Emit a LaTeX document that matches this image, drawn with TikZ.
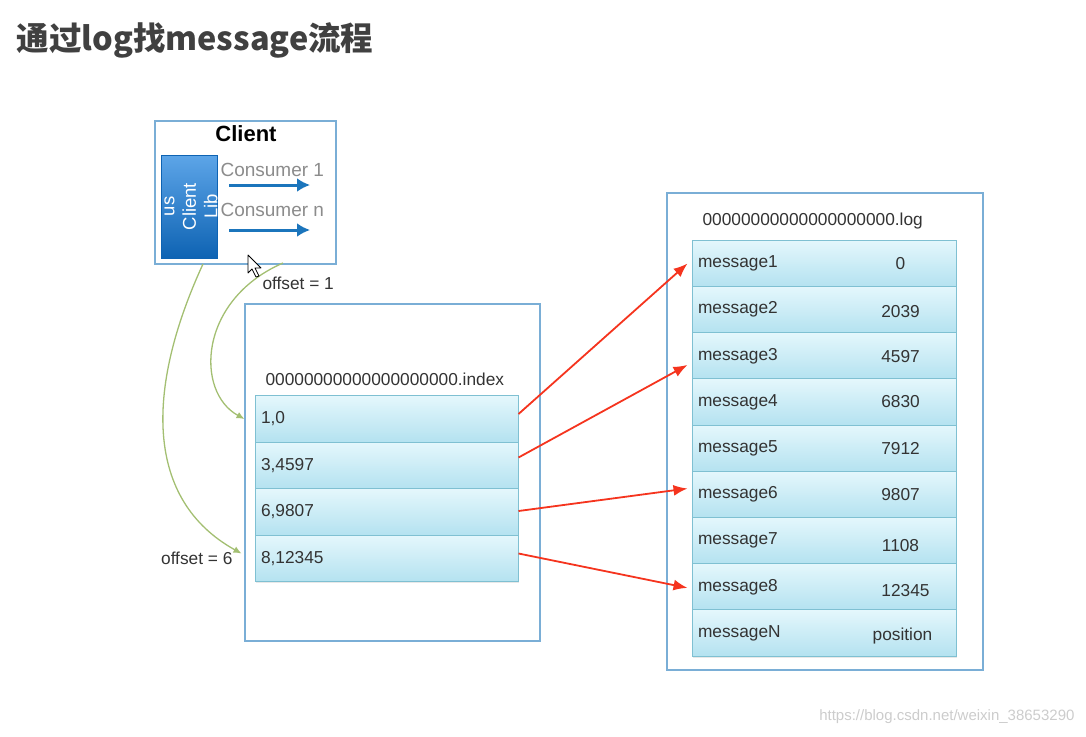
\documentclass[tikz,border=0pt]{standalone}
\usepackage{fontspec}
\setmainfont{Liberation Sans}
\newfontfamily\cjk{Noto Sans CJK SC}
\usetikzlibrary{arrows.meta, positioning, shadows}
\definecolor{boxline}{HTML}{7AAED6}
\definecolor{rowline}{HTML}{7FC0D2}
\definecolor{rowtop}{HTML}{E4F7FC}
\definecolor{rowbot}{HTML}{B4E2F0}
\definecolor{libtop}{HTML}{5DA5E8}
\definecolor{libbot}{HTML}{0E63B3}
\definecolor{consblue}{HTML}{1B75BC}
\definecolor{seekgreen}{HTML}{A3BF72}
\definecolor{ptrred}{HTML}{F5341E}
\definecolor{txtgray}{HTML}{333333}
\tikzstyle{every node}=[font=\fontsize{17.3}{20}\selectfont, text=txtgray]
\tikzstyle{frame}=[draw=boxline, line width=1.4pt, fill=white, rectangle, inner sep=0pt]
\tikzstyle{row}=[draw=rowline, line width=1pt, top color=rowtop, bottom color=rowbot, rectangle,
  inner xsep=6pt, inner ysep=0pt, align=left, minimum height=46.3pt,
  drop shadow={opacity=0.18, shadow xshift=0.8pt, shadow yshift=-1.6pt}]
\tikzstyle{ptr}=[-{Latex[length=14pt,width=11pt]}, ptrred, line width=1.8pt]
\tikzstyle{seek}=[-{Latex[length=8pt,width=7pt]}, seekgreen, line width=1.3pt]
\tikzstyle{cons}=[-{Latex[length=13pt,width=14pt]}, consblue, line width=3pt]
\newcommand{\fsz}[1]{\fontsize{#1}{#1}\selectfont}

\begin{document}
\begin{tikzpicture}[x=1pt, y=-1pt]
    \useasboundingbox (0,0) rectangle (1086,736);
    \node[anchor=west, text=black!75] (title) at (13,40) {\cjk\bfseries\fsz{32.5}通过log找message流程};
    % client
    \node[frame, minimum width=181pt, minimum height=143pt] (client) at (245.5,192.5) {};
    \node[font=\bfseries\fsz{22}, text=black] (cname) at (246,134) {Client};
    \node[rectangle, draw=libbot, top color=libtop, bottom color=libbot, minimum width=56pt,
      minimum height=103pt, inner sep=0pt] (lib) at (189,206.5) {};
    \node[rotate=90, text=white, align=center, font=\fontsize{18.5}{21.5}\selectfont] at ([xshift=2pt]lib.center) {us\\Client\\Lib};
    \node[anchor=west, text=black!45, font=\fsz{19}] (c1) at (217,170) {Consumer 1};
    \node[anchor=west, text=black!45, font=\fsz{19}] (cn) at (217,210) {Consumer n};
    \coordinate (c1a) at (229,185);
    \coordinate (c1b) at (310,185);
    \coordinate (cna) at (229,230);
    \coordinate (cnb) at (310,230);
    \draw[cons] (c1a) -- (c1b);
    \draw[cons] (cna) -- (cnb);
    % index file
    \node[frame, minimum width=295pt, minimum height=337pt] (index) at (392.5,472.5) {};
    \node[anchor=west] (iname) at (262,379) {00000000000000000000.index};
    \node[row, text width=251pt] (i1) at (386.5,419) {1,0};
    \node[row, text width=251pt, below of=i1, node distance=46.5pt] (i2) {3,4597};
    \node[row, text width=251pt, below of=i2, node distance=46.5pt] (i3) {6,9807};
    \node[row, text width=251pt, below of=i3, node distance=46.5pt] (i4) {8,12345};
    % log file
    \node[frame, minimum width=316pt, minimum height=477pt] (log) at (825,431.5) {};
    \node[anchor=west] (lname) at (699,221) {00000000000000000000.log};
    \node[row, text width=252pt] (m1) at (824,263.5) {message1};
    \node[row, text width=252pt, below of=m1, node distance=46.2pt] (m2) {message2};
    \node[row, text width=252pt, below of=m2, node distance=46.2pt] (m3) {message3};
    \node[row, text width=252pt, below of=m3, node distance=46.2pt] (m4) {message4};
    \node[row, text width=252pt, below of=m4, node distance=46.2pt] (m5) {message5};
    \node[row, text width=252pt, below of=m5, node distance=46.2pt] (m6) {message6};
    \node[row, text width=252pt, below of=m6, node distance=46.2pt] (m7) {message7};
    \node[row, text width=252pt, below of=m7, node distance=46.2pt] (m8) {message8};
    \node[row, text width=252pt, below of=m8, node distance=46.2pt] (mN) {messageN};
    \node at ([xshift=-56pt]m1.east) {0};
    \node at ([xshift=-56pt,yshift=-2pt]m2.east) {2039};
    \node at ([xshift=-56pt,yshift=-1pt]m3.east) {4597};
    \node at ([xshift=-56pt,yshift=1pt]m4.east) {6830};
    \node at ([xshift=-56pt]m5.east) {7912};
    \node at ([xshift=-56pt]m6.east) {9807};
    \node at ([xshift=-56pt,yshift=-5pt]m7.east) {1108};
    \node at ([xshift=-51pt,yshift=-4pt]m8.east) {12345};
    \node at ([xshift=-54pt,yshift=-3pt]mN.east) {position};
    % offsets
    \node[anchor=west] (off1) at (259,283) {offset = 1};
    \node[anchor=east] (off6) at (236,558) {offset = 6};
    \coordinate (s1) at (283,263);
    \coordinate (s6) at (203,264);
    \draw[seek] (s1) .. controls (198,300) and (195,392) .. ([xshift=-10pt]i1.west);
    \draw[seek] (s6) .. controls (145,390) and (145,500) .. ([xshift=-13pt,yshift=5pt]i4.west);
    % pointers
    \draw[ptr] ([yshift=5pt]i1.east) -- ([xshift=-4pt]m1.west);
    \draw[ptr] ([yshift=8pt]i2.east) -- ([xshift=-4pt,yshift=-9pt]m3.west);
    \draw[ptr] ([yshift=1pt]i3.east) -- ([xshift=-4pt,yshift=6pt]m6.west);
    \draw[ptr] ([yshift=5pt]i4.east) -- ([xshift=-4pt,yshift=-1pt]m8.west);
    % mouse cursor
    \draw[fill=white, line width=0.8pt, line join=round] (248,255) -- (248,273) -- (252,269) -- (256,277) -- (259,276) -- (255,268) -- (261,268) -- cycle;
    \node[anchor=east, text=black!20, font=\fsz{15}] (mark) at (1078,717) {https://blog.csdn.net/weixin\_38653290};
\end{tikzpicture}
\end{document}
